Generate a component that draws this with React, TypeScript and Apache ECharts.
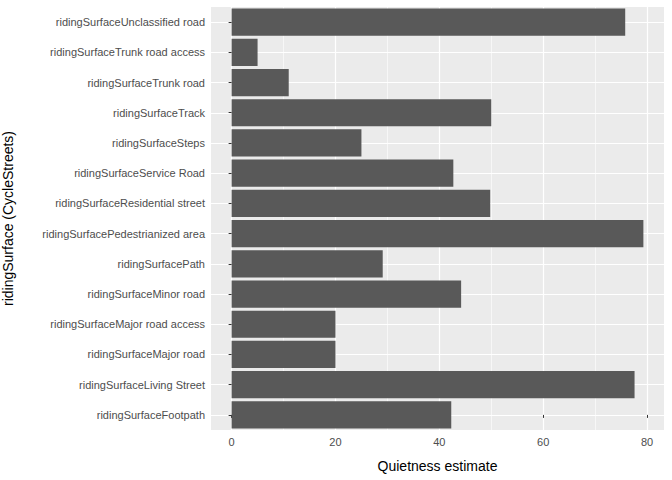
import { useEffect, useRef } from "react";
import * as echarts from "echarts";

// bottom to top
const categories = [
  "ridingSurfaceFootpath",
  "ridingSurfaceLiving Street",
  "ridingSurfaceMajor road",
  "ridingSurfaceMajor road access",
  "ridingSurfaceMinor road",
  "ridingSurfacePath",
  "ridingSurfacePedestrianized area",
  "ridingSurfaceResidential street",
  "ridingSurfaceService Road",
  "ridingSurfaceSteps",
  "ridingSurfaceTrack",
  "ridingSurfaceTrunk road",
  "ridingSurfaceTrunk road access",
  "ridingSurfaceUnclassified road",
];
const values = [42.3, 77.6, 20, 20, 44.2, 29.1, 79.3, 49.8, 42.7, 25, 50, 11, 5, 75.8];
const majorTicks = [0, 20, 40, 60, 80];
const minorTicks = [10, 30, 50, 70];

export default function App() {
  const ref = useRef<HTMLDivElement>(null);

  useEffect(() => {
    if (!ref.current) return;
    const chart = echarts.init(ref.current, null, { renderer: "svg" });
    const xMin = -3.97;
    const xMax = 83.27;
    const rowCenters = categories.map((_, i) => i);
    chart.setOption({
      animation: false,
      textStyle: { fontFamily: "Liberation Sans, Arial, sans-serif" },
      grid: {
        left: 211, right: 8, top: 7, bottom: 50,
        backgroundColor: "#ebebeb", show: true, borderWidth: 0,
        outerBoundsMode: "none", containLabel: false,
      },
      xAxis: [
        {
          type: "value",
          min: xMin,
          max: xMax,
          name: "Quietness estimate",
          nameLocation: "middle",
          nameGap: 29,
          nameTextStyle: { color: "#000", fontSize: 14 },
          axisLine: { show: false },
          axisTick: { show: true, customValues: majorTicks, length: 3, lineStyle: { color: "#333" } },
          axisLabel: { customValues: majorTicks, color: "#4d4d4d", fontSize: 11, margin: 6 },
          splitLine: { show: true, lineStyle: { color: "#fff", width: 1.2 } },
        },
        {
          type: "value",
          min: xMin,
          max: xMax,
          position: "bottom",
          axisLine: { show: false },
          axisTick: { show: false, customValues: minorTicks },
          axisLabel: { show: false, customValues: minorTicks },
          splitLine: { show: true, lineStyle: { color: "#fff", width: 0.6 } },
        },
      ],
      yAxis: [
        {
          type: "category",
          data: categories,
          name: "ridingSurface (CycleStreets)",
          nameLocation: "middle",
          nameGap: 196,
          nameRotate: 90,
          nameTextStyle: { color: "#000", fontSize: 14 },
          axisLine: { show: false },
          axisTick: { show: true, alignWithLabel: true, length: 3, lineStyle: { color: "#333" } },
          axisLabel: { color: "#4d4d4d", fontSize: 11, margin: 6 },
          splitLine: { show: false },
        },
        {
          type: "value",
          min: -0.5,
          max: categories.length - 0.5,
          position: "left",
          axisLine: { show: false },
          axisTick: { show: false, customValues: rowCenters },
          axisLabel: { show: false, customValues: rowCenters },
          splitLine: { show: true, lineStyle: { color: "#fff", width: 1.2 } },
        },
      ],
      series: [
        {
          type: "bar",
          data: values,
          barWidth: "90%",
          itemStyle: { color: "#595959" },
          z: 2,
        },
      ],
    });
    return () => chart.dispose();
  }, []);

  return <div ref={ref} style={{ position: "absolute", left: 0, top: 0, width: 672, height: 480 }} />;
}
